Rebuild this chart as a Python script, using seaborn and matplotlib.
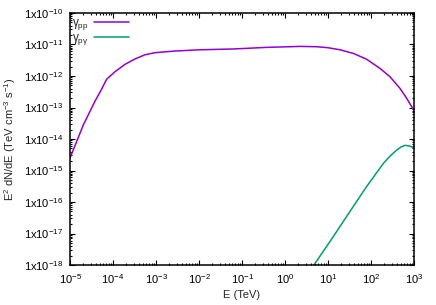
import numpy as np
import pandas as pd
import matplotlib
matplotlib.use("Agg")
import matplotlib.pyplot as plt
import matplotlib.ticker as mticker
import seaborn as sns

# gamma-ray spectra (E in TeV, E^2 dN/dE in TeV cm^-3 s^-1)
pp_E = [1.0e-5, 2.04e-5, 3.8e-5, 5.25e-5, 7.1e-5, 1.12e-4, 1.9e-4, 3.24e-4,
        5.5e-4, 9.5e-4, 2.75e-3, 1.05e-2, 6.2e-2, 0.37, 2.24, 5.5, 10.0,
        19.0, 39.0, 79.0, 162.0, 275.0, 468.0, 676.0, 933.0, 1000.0]
pp_flux = [2.5e-15, 2.8e-14, 1.58e-13, 3.5e-13, 7.9e-13, 1.38e-12, 2.34e-12,
           3.47e-12, 4.7e-12, 5.5e-12, 6.2e-12, 6.8e-12, 7.2e-12, 8.1e-12,
           8.7e-12, 8.5e-12, 7.9e-12, 6.8e-12, 5.2e-12, 3.4e-12, 1.74e-12,
           9.5e-13, 4.1e-13, 1.95e-13, 9.3e-14, 8.3e-14]

pg_E = [4.0, 4.7, 13.2, 32.0, 55.0, 79.0, 195.0, 282.0, 400.0, 501.0, 617.0,
        794.0, 1000.0]
pg_flux = [6.3e-19, 1.0e-18, 7.9e-18, 4.9e-17, 1.48e-16, 3.1e-16, 1.7e-15,
           2.95e-15, 4.5e-15, 5.6e-15, 6.3e-15, 6.0e-15, 5.1e-15]

labels = [r"$\mathrm{γ_{pp}}$", r"$\mathrm{γ_{pγ}}$"]
colors = ["#9400d3", "#009e73"]

x_ticks = [1e-5, 1e-4, 1e-3, 1e-2, 1e-1, 1e0, 1e1, 1e2, 1e3]
y_ticks = [1e-18, 1e-17, 1e-16, 1e-15, 1e-14, 1e-13, 1e-12, 1e-11, 1e-10]


def main():
    sns.set_style("ticks")
    plt.rcParams["font.family"] = ["Liberation Sans", "DejaVu Sans"]
    plt.rcParams["mathtext.fontset"] = "custom"
    plt.rcParams["mathtext.rm"] = "Liberation Sans"
    plt.rcParams["mathtext.it"] = "Liberation Sans:italic"
    plt.rcParams["mathtext.bf"] = "Liberation Sans:bold"

    fig = plt.figure(figsize=(4.36, 3.05), dpi=100)
    ax = fig.add_axes([0.1606, 0.1311, 0.789, 0.8263])

    df_pp = pd.DataFrame({"E": pp_E, "flux": pp_flux})
    df_pg = pd.DataFrame({"E": pg_E, "flux": pg_flux})
    sns.lineplot(data=df_pp, x="E", y="flux", ax=ax, color=colors[0],
                 lw=1.1, label=labels[0], sort=False)
    sns.lineplot(data=df_pg, x="E", y="flux", ax=ax, color=colors[1],
                 lw=1.1, label=labels[1], sort=False)

    ax.set_xscale("log")
    ax.set_yscale("log")
    ax.set_xlim(1e-5, 1e3)
    ax.set_ylim(1e-18, 1e-10)

    ax.xaxis.set_major_locator(mticker.FixedLocator(x_ticks))
    ax.yaxis.set_major_locator(mticker.FixedLocator(y_ticks))
    ax.xaxis.set_minor_locator(mticker.LogLocator(base=10, subs=np.arange(2, 10), numticks=100))
    ax.yaxis.set_minor_locator(mticker.LogLocator(base=10, subs=np.arange(2, 10), numticks=100))
    ax.xaxis.set_major_formatter(mticker.FuncFormatter(
        lambda v, p: r"10$^{%d}$" % round(np.log10(v))))
    ax.yaxis.set_major_formatter(mticker.FuncFormatter(
        lambda v, p: r"1x10$^{%d}$" % round(np.log10(v))))

    ax.tick_params(which="both", direction="in", top=True, right=True,
                   labelsize=8, width=0.8, colors="black")
    ax.tick_params(which="major", length=3.5, pad=5)
    ax.tick_params(which="minor", length=1.6)
    for s in ax.spines.values():
        s.set_linewidth(1.1)
        s.set_color("black")

    ax.set_xlabel("E (TeV)", fontsize=8, labelpad=3)
    ax.set_ylabel(r"E$^{2}$ dN/dE (TeV cm$^{-3}$ s$^{-1}$)", fontsize=8, labelpad=4)

    ax.legend(loc="upper left", bbox_to_anchor=(0.0, 0.99), frameon=False,
              markerfirst=False, fontsize=8.5, handlelength=2.9,
              handletextpad=0.5, borderaxespad=0.0, borderpad=0.15,
              labelspacing=0.0)

    fig.savefig("out.png", dpi=100)


if __name__ == "__main__":
    main()
